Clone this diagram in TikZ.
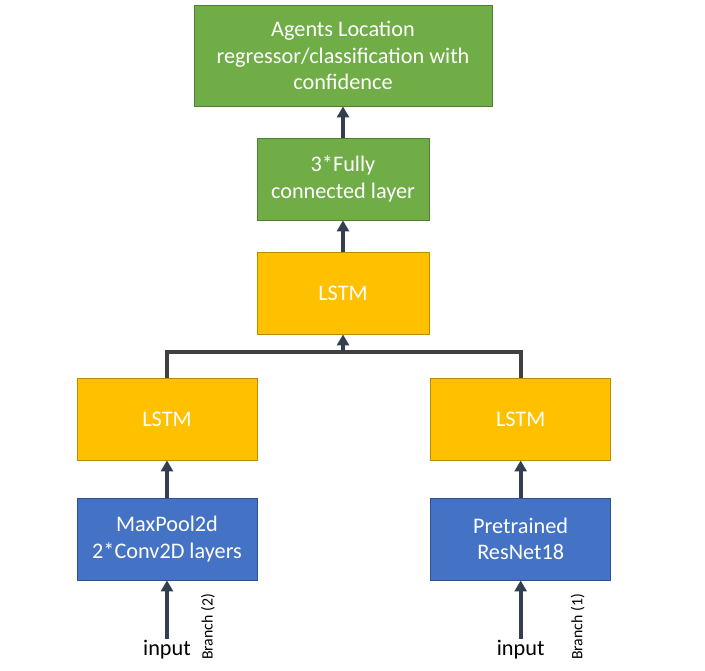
\documentclass[tikz,border=0pt]{standalone}
\usepackage{fontspec}
\setmainfont{Carlito}
\usepackage{xcolor}
\usepackage{tikz}
\usetikzlibrary{positioning, arrows.meta}
\definecolor{fcgreen}{HTML}{70AD47}
\definecolor{fcgreenline}{HTML}{507E32}
\definecolor{lstmyellow}{HTML}{FFC000}
\definecolor{lstmyellowline}{HTML}{BC8C00}
\definecolor{cnnblue}{HTML}{4472C4}
\definecolor{cnnblueline}{HTML}{2F528F}
\definecolor{arrowdark}{HTML}{333F50}
\definecolor{mergegray}{HTML}{404040}
\tikzset{node distance=3.6cm,
         every node/.style={font=\fontsize{19}{22.5}\selectfont, align=center},
         layer/.style={draw, line width=0.8pt, text=white, minimum width=5.4cm, minimum height=2.46cm},
         green layer/.style={layer, fill=fcgreen, draw=fcgreenline},
         yellow layer/.style={layer, fill=lstmyellow, draw=lstmyellowline},
         blue layer/.style={layer, fill=cnnblue, draw=cnnblueline},
         flow/.style={line width=3.4pt, draw=arrowdark, -{Triangle[width=0.36cm,length=0.33cm]}},
         merge/.style={line width=3.4pt, draw=mergegray},
         branch/.style={font=\fontsize{13.5}{15}\selectfont, rotate=90},
         }

\begin{document}
\begin{tikzpicture}[on grid]
    \useasboundingbox (0,0) rectangle (21.15,-20.13);

    \node[yellow layer, minimum width=5.16cm] (lstm) at (10.29,-8.79) {LSTM};
    \node[green layer, minimum width=5.16cm, above=3.42cm of lstm] (fc) {3*Fully\\connected layer};
    \node[green layer, minimum width=8.94cm, minimum height=3.03cm, above=3.705cm of fc] (out) {Agents Location\\regressor/classification with\\confidence};
    \node[yellow layer, below left=3.78cm and 5.28cm of lstm] (lstmL) {LSTM};
    \node[yellow layer, below right=3.78cm and 5.33cm of lstm] (lstmR) {LSTM};
    \node[blue layer, below=of lstmL] (cnn) {MaxPool2d\\2*Conv2D layers};
    \node[blue layer, below=of lstmR] (resnet) {Pretrained\\ResNet18};
    \node[inner sep=1pt, below=3.33cm of cnn] (inL) {input};
    \node[inner sep=1pt, below=3.33cm of resnet] (inR) {input};
    \node[branch, below right=2.64cm and 1.23cm of cnn] (brL) {Branch (2)};
    \node[branch, below right=2.64cm and 1.71cm of resnet] (brR) {Branch (1)};

    \coordinate[below=0.54cm of lstm.south] (joint);

    \draw[flow] (inL) -- (cnn);
    \draw[flow] (inR) -- (resnet);
    \draw[flow] (cnn) -- (lstmL);
    \draw[flow] (resnet) -- (lstmR);
    \draw[merge] (lstmL.north) |- (joint) -| (lstmR.north);
    \draw[flow] (joint) -- (lstm.south);
    \draw[flow] (lstm) -- (fc);
    \draw[flow] (fc) -- (out);
\end{tikzpicture}
\end{document}
